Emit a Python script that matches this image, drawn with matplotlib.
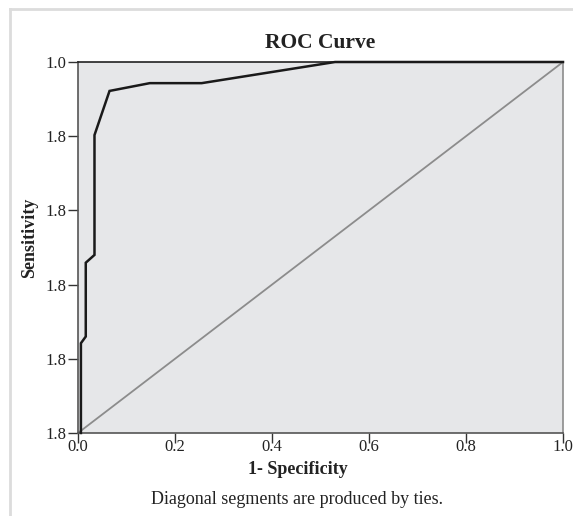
import matplotlib
matplotlib.use("Agg")
import matplotlib.pyplot as plt
from matplotlib.lines import Line2D

plt.rcParams['font.family'] = ['Liberation Serif', 'DejaVu Serif']

# ROC curve coordinates (1 - specificity, sensitivity)
fpr = [0.006, 0.006, 0.016, 0.016, 0.034, 0.034, 0.065, 0.148, 0.255, 0.53, 1.0]
tpr = [0.0, 0.242, 0.26, 0.459, 0.48, 0.803, 0.922, 0.943, 0.943, 1.0, 1.0]

# Reference line
ref_x = [0.0, 1.0]
ref_y = [0.0, 1.0]

xticks = [0.0, 0.2, 0.4, 0.6, 0.8, 1.0]
xtick_labels = ["0.0", "0.2", "0.4", "0.6", "0.8", "1.0"]
yticks = [0.0, 0.2, 0.4, 0.6, 0.8, 1.0]
ytick_labels = ["1.8", "1.8", "1.8", "1.8", "1.8", "1.0"]

W, H = 573, 516
fig = plt.figure(figsize=(W / 100, H / 100), dpi=100)
fig.patch.set_facecolor('white')

# light frame along top and left
fig.add_artist(Line2D([10 / W, 1.0], [1 - 9 / H, 1 - 9 / H], transform=fig.transFigure,
                      color='#dcdcdc', lw=2))
fig.add_artist(Line2D([10 / W, 10 / W], [0.0, 1 - 9 / H], transform=fig.transFigure,
                      color='#dcdcdc', lw=2))

x0, x1, y0, y1 = 78, 563, 62, 433
ax = fig.add_axes([x0 / W, 1 - y1 / H, (x1 - x0) / W, (y1 - y0) / H])
ax.set_facecolor('#e6e7e9')

ax.plot(ref_x, ref_y, color='#8c8c8c', lw=1.3, zorder=2)
ax.plot(fpr, tpr, color='#1a1a1a', lw=1.8, zorder=3, clip_on=False, solid_joinstyle='miter')

ax.set_xlim(0, 1)
ax.set_ylim(0, 1)
ax.set_xticks(xticks)
ax.set_xticklabels(xtick_labels)
ax.set_yticks(yticks)
ax.set_yticklabels(ytick_labels)
ax.tick_params(axis='both', direction='out', width=1, color='#333333',
               labelsize=12, labelcolor='#222222')
ax.tick_params(axis='y', length=7, pad=1.5)
ax.tick_params(axis='x', length=7, pad=-3)

ax.spines['left'].set_color('#555555')
ax.spines['bottom'].set_color('#555555')
ax.spines['right'].set_color('#8c8c8c')
ax.spines['top'].set_color('#222222')
for s in ax.spines.values():
    s.set_linewidth(1.2)

fig.text((x0 + x1) / 2 / W, 1 - 43 / H, "ROC Curve", ha='center', va='center',
         fontsize=15.5, fontweight='bold', color='#222222')
fig.text(30 / W, 1 - 238 / H, "Sensitivity", ha='center', va='center', rotation=90,
         fontsize=13, fontweight='bold', color='#222222')
fig.text(298 / W, 1 - 470 / H, "1- Specificity", ha='center', va='center',
         fontsize=13, fontweight='bold', color='#222222')
fig.text(297 / W, 1 - 499 / H, "Diagonal segments are produced by ties.",
         ha='center', va='center', fontsize=13, color='#222222')

fig.savefig("out.png", dpi=100)
